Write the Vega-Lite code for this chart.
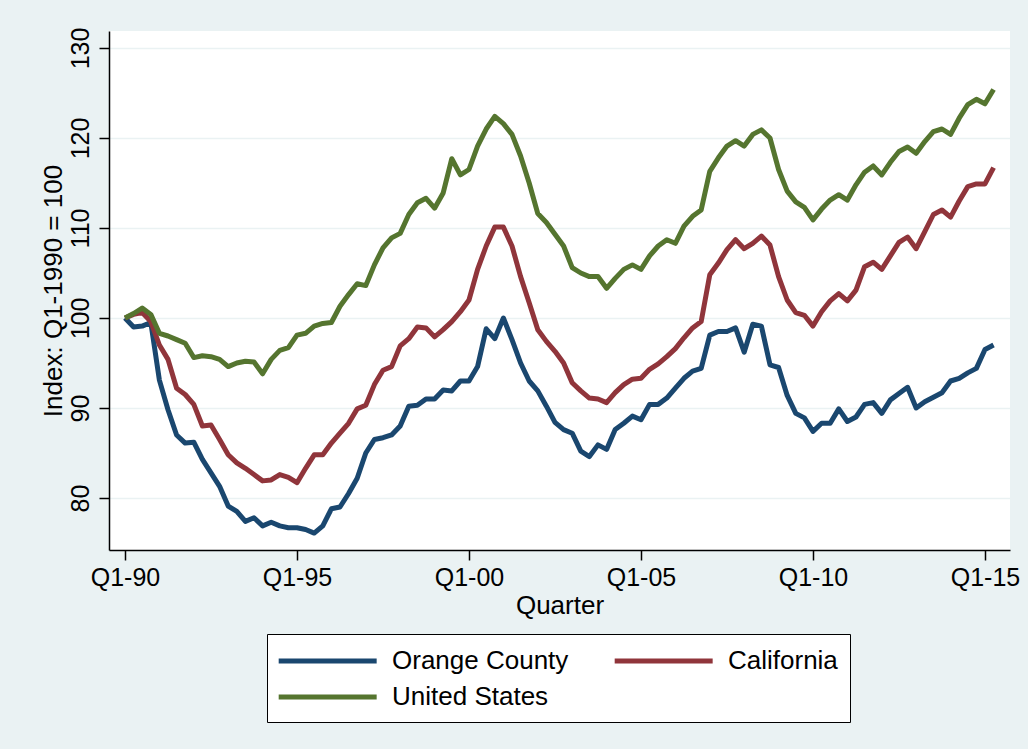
{
  "$schema": "https://vega.github.io/schema/vega-lite/v6.json",
  "width": 901,
  "height": 519,
  "autosize": {"type": "none"},
  "padding": {"left": 109, "top": 31, "right": 18, "bottom": 199},
  "background": "#eaf2f3",
  "config": {
    "font": "Liberation Sans",
    "view": {"fill": "white", "stroke": null},
    "axis": {
      "domainColor": "#000",
      "domainWidth": 1.5,
      "tickColor": "#000",
      "tickWidth": 1.5,
      "tickSize": 10,
      "labelFont": "Liberation Sans",
      "labelFontSize": 25,
      "labelColor": "#000",
      "titleFont": "Liberation Sans",
      "titleFontSize": 26,
      "titleFontWeight": "normal",
      "titleColor": "#000",
      "gridColor": "#eaf2f3",
      "gridWidth": 1.5
    }
  },
  "data": {
    "values": [
      {"q":0,"s":"Orange County","v":100},{"q":1,"s":"Orange County","v":99.0},{"q":2,"s":"Orange County","v":99.1},{"q":3,"s":"Orange County","v":99.5},{"q":4,"s":"Orange County","v":93.1},{"q":5,"s":"Orange County","v":89.8},{"q":6,"s":"Orange County","v":87.0},{"q":7,"s":"Orange County","v":86.1},{"q":8,"s":"Orange County","v":86.2},{"q":9,"s":"Orange County","v":84.3},
      {"q":10,"s":"Orange County","v":82.8},{"q":11,"s":"Orange County","v":81.3},{"q":12,"s":"Orange County","v":79.1},{"q":13,"s":"Orange County","v":78.5},{"q":14,"s":"Orange County","v":77.4},{"q":15,"s":"Orange County","v":77.8},{"q":16,"s":"Orange County","v":76.9},{"q":17,"s":"Orange County","v":77.3},{"q":18,"s":"Orange County","v":76.9},{"q":19,"s":"Orange County","v":76.7},
      {"q":20,"s":"Orange County","v":76.7},{"q":21,"s":"Orange County","v":76.5},{"q":22,"s":"Orange County","v":76.1},{"q":23,"s":"Orange County","v":76.9},{"q":24,"s":"Orange County","v":78.8},{"q":25,"s":"Orange County","v":79.0},{"q":26,"s":"Orange County","v":80.5},{"q":27,"s":"Orange County","v":82.2},{"q":28,"s":"Orange County","v":85.0},{"q":29,"s":"Orange County","v":86.5},
      {"q":30,"s":"Orange County","v":86.7},{"q":31,"s":"Orange County","v":87.0},{"q":32,"s":"Orange County","v":88.0},{"q":33,"s":"Orange County","v":90.2},{"q":34,"s":"Orange County","v":90.3},{"q":35,"s":"Orange County","v":91.0},{"q":36,"s":"Orange County","v":91.0},{"q":37,"s":"Orange County","v":92.0},{"q":38,"s":"Orange County","v":91.9},{"q":39,"s":"Orange County","v":93.0},
      {"q":40,"s":"Orange County","v":93.0},{"q":41,"s":"Orange County","v":94.6},{"q":42,"s":"Orange County","v":98.8},{"q":43,"s":"Orange County","v":97.7},{"q":44,"s":"Orange County","v":100.0},{"q":45,"s":"Orange County","v":97.6},{"q":46,"s":"Orange County","v":95.0},{"q":47,"s":"Orange County","v":93.0},{"q":48,"s":"Orange County","v":91.9},{"q":49,"s":"Orange County","v":90.2},
      {"q":50,"s":"Orange County","v":88.4},{"q":51,"s":"Orange County","v":87.6},{"q":52,"s":"Orange County","v":87.2},{"q":53,"s":"Orange County","v":85.2},{"q":54,"s":"Orange County","v":84.6},{"q":55,"s":"Orange County","v":85.9},{"q":56,"s":"Orange County","v":85.4},{"q":57,"s":"Orange County","v":87.6},{"q":58,"s":"Orange County","v":88.3},{"q":59,"s":"Orange County","v":89.1},
      {"q":60,"s":"Orange County","v":88.7},{"q":61,"s":"Orange County","v":90.4},{"q":62,"s":"Orange County","v":90.4},{"q":63,"s":"Orange County","v":91.1},{"q":64,"s":"Orange County","v":92.2},{"q":65,"s":"Orange County","v":93.3},{"q":66,"s":"Orange County","v":94.1},{"q":67,"s":"Orange County","v":94.4},{"q":68,"s":"Orange County","v":98.1},{"q":69,"s":"Orange County","v":98.5},
      {"q":70,"s":"Orange County","v":98.5},{"q":71,"s":"Orange County","v":98.9},{"q":72,"s":"Orange County","v":96.2},{"q":73,"s":"Orange County","v":99.3},{"q":74,"s":"Orange County","v":99.1},{"q":75,"s":"Orange County","v":94.8},{"q":76,"s":"Orange County","v":94.5},{"q":77,"s":"Orange County","v":91.4},{"q":78,"s":"Orange County","v":89.4},{"q":79,"s":"Orange County","v":88.9},
      {"q":80,"s":"Orange County","v":87.4},{"q":81,"s":"Orange County","v":88.3},{"q":82,"s":"Orange County","v":88.3},{"q":83,"s":"Orange County","v":89.9},{"q":84,"s":"Orange County","v":88.5},{"q":85,"s":"Orange County","v":89.0},{"q":86,"s":"Orange County","v":90.4},{"q":87,"s":"Orange County","v":90.6},{"q":88,"s":"Orange County","v":89.4},{"q":89,"s":"Orange County","v":90.9},
      {"q":90,"s":"Orange County","v":91.6},{"q":91,"s":"Orange County","v":92.3},{"q":92,"s":"Orange County","v":90.0},{"q":93,"s":"Orange County","v":90.7},{"q":94,"s":"Orange County","v":91.2},{"q":95,"s":"Orange County","v":91.7},{"q":96,"s":"Orange County","v":93.0},{"q":97,"s":"Orange County","v":93.3},{"q":98,"s":"Orange County","v":93.9},{"q":99,"s":"Orange County","v":94.4},
      {"q":100,"s":"Orange County","v":96.5},{"q":101,"s":"Orange County","v":97.0},
      {"q":0,"s":"California","v":100},{"q":1,"s":"California","v":100.4},{"q":2,"s":"California","v":100.6},{"q":3,"s":"California","v":99.6},{"q":4,"s":"California","v":97.0},{"q":5,"s":"California","v":95.4},{"q":6,"s":"California","v":92.2},{"q":7,"s":"California","v":91.5},{"q":8,"s":"California","v":90.4},{"q":9,"s":"California","v":88.0},
      {"q":10,"s":"California","v":88.1},{"q":11,"s":"California","v":86.5},{"q":12,"s":"California","v":84.8},{"q":13,"s":"California","v":83.9},{"q":14,"s":"California","v":83.3},{"q":15,"s":"California","v":82.6},{"q":16,"s":"California","v":81.9},{"q":17,"s":"California","v":82.0},{"q":18,"s":"California","v":82.6},{"q":19,"s":"California","v":82.3},
      {"q":20,"s":"California","v":81.7},{"q":21,"s":"California","v":83.3},{"q":22,"s":"California","v":84.8},{"q":23,"s":"California","v":84.8},{"q":24,"s":"California","v":86.1},{"q":25,"s":"California","v":87.2},{"q":26,"s":"California","v":88.3},{"q":27,"s":"California","v":89.9},{"q":28,"s":"California","v":90.3},{"q":29,"s":"California","v":92.6},
      {"q":30,"s":"California","v":94.2},{"q":31,"s":"California","v":94.6},{"q":32,"s":"California","v":96.9},{"q":33,"s":"California","v":97.7},{"q":34,"s":"California","v":99.0},{"q":35,"s":"California","v":98.9},{"q":36,"s":"California","v":97.9},{"q":37,"s":"California","v":98.7},{"q":38,"s":"California","v":99.6},{"q":39,"s":"California","v":100.7},
      {"q":40,"s":"California","v":102.0},{"q":41,"s":"California","v":105.4},{"q":42,"s":"California","v":108.0},{"q":43,"s":"California","v":110.1},{"q":44,"s":"California","v":110.1},{"q":45,"s":"California","v":108.0},{"q":46,"s":"California","v":104.6},{"q":47,"s":"California","v":101.7},{"q":48,"s":"California","v":98.7},{"q":49,"s":"California","v":97.4},
      {"q":50,"s":"California","v":96.3},{"q":51,"s":"California","v":95.0},{"q":52,"s":"California","v":92.8},{"q":53,"s":"California","v":91.9},{"q":54,"s":"California","v":91.1},{"q":55,"s":"California","v":91.0},{"q":56,"s":"California","v":90.6},{"q":57,"s":"California","v":91.7},{"q":58,"s":"California","v":92.6},{"q":59,"s":"California","v":93.2},
      {"q":60,"s":"California","v":93.3},{"q":61,"s":"California","v":94.3},{"q":62,"s":"California","v":94.9},{"q":63,"s":"California","v":95.7},{"q":64,"s":"California","v":96.6},{"q":65,"s":"California","v":97.8},{"q":66,"s":"California","v":98.9},{"q":67,"s":"California","v":99.6},{"q":68,"s":"California","v":104.8},{"q":69,"s":"California","v":106.1},
      {"q":70,"s":"California","v":107.6},{"q":71,"s":"California","v":108.7},{"q":72,"s":"California","v":107.7},{"q":73,"s":"California","v":108.3},{"q":74,"s":"California","v":109.1},{"q":75,"s":"California","v":108.1},{"q":76,"s":"California","v":104.6},{"q":77,"s":"California","v":102.0},{"q":78,"s":"California","v":100.6},{"q":79,"s":"California","v":100.3},
      {"q":80,"s":"California","v":99.1},{"q":81,"s":"California","v":100.7},{"q":82,"s":"California","v":101.9},{"q":83,"s":"California","v":102.7},{"q":84,"s":"California","v":101.9},{"q":85,"s":"California","v":103.1},{"q":86,"s":"California","v":105.7},{"q":87,"s":"California","v":106.2},{"q":88,"s":"California","v":105.4},{"q":89,"s":"California","v":106.9},
      {"q":90,"s":"California","v":108.4},{"q":91,"s":"California","v":109.0},{"q":92,"s":"California","v":107.7},{"q":93,"s":"California","v":109.6},{"q":94,"s":"California","v":111.5},{"q":95,"s":"California","v":112.0},{"q":96,"s":"California","v":111.2},{"q":97,"s":"California","v":113.0},{"q":98,"s":"California","v":114.6},{"q":99,"s":"California","v":114.9},
      {"q":100,"s":"California","v":114.9},{"q":101,"s":"California","v":116.7},
      {"q":0,"s":"United States","v":100},{"q":1,"s":"United States","v":100.5},{"q":2,"s":"United States","v":101.1},{"q":3,"s":"United States","v":100.4},{"q":4,"s":"United States","v":98.3},{"q":5,"s":"United States","v":98.0},{"q":6,"s":"United States","v":97.6},{"q":7,"s":"United States","v":97.2},{"q":8,"s":"United States","v":95.6},{"q":9,"s":"United States","v":95.8},
      {"q":10,"s":"United States","v":95.7},{"q":11,"s":"United States","v":95.4},{"q":12,"s":"United States","v":94.6},{"q":13,"s":"United States","v":95.0},{"q":14,"s":"United States","v":95.2},{"q":15,"s":"United States","v":95.1},{"q":16,"s":"United States","v":93.8},{"q":17,"s":"United States","v":95.4},{"q":18,"s":"United States","v":96.4},{"q":19,"s":"United States","v":96.7},
      {"q":20,"s":"United States","v":98.1},{"q":21,"s":"United States","v":98.3},{"q":22,"s":"United States","v":99.1},{"q":23,"s":"United States","v":99.4},{"q":24,"s":"United States","v":99.5},{"q":25,"s":"United States","v":101.3},{"q":26,"s":"United States","v":102.6},{"q":27,"s":"United States","v":103.8},{"q":28,"s":"United States","v":103.6},{"q":29,"s":"United States","v":105.9},
      {"q":30,"s":"United States","v":107.8},{"q":31,"s":"United States","v":108.9},{"q":32,"s":"United States","v":109.4},{"q":33,"s":"United States","v":111.5},{"q":34,"s":"United States","v":112.8},{"q":35,"s":"United States","v":113.3},{"q":36,"s":"United States","v":112.2},{"q":37,"s":"United States","v":113.9},{"q":38,"s":"United States","v":117.7},{"q":39,"s":"United States","v":115.9},
      {"q":40,"s":"United States","v":116.5},{"q":41,"s":"United States","v":119.1},{"q":42,"s":"United States","v":121.0},{"q":43,"s":"United States","v":122.4},{"q":44,"s":"United States","v":121.6},{"q":45,"s":"United States","v":120.4},{"q":46,"s":"United States","v":118.0},{"q":47,"s":"United States","v":115.0},{"q":48,"s":"United States","v":111.6},{"q":49,"s":"United States","v":110.6},
      {"q":50,"s":"United States","v":109.3},{"q":51,"s":"United States","v":108.0},{"q":52,"s":"United States","v":105.6},{"q":53,"s":"United States","v":105.0},{"q":54,"s":"United States","v":104.6},{"q":55,"s":"United States","v":104.6},{"q":56,"s":"United States","v":103.3},{"q":57,"s":"United States","v":104.4},{"q":58,"s":"United States","v":105.4},{"q":59,"s":"United States","v":105.9},
      {"q":60,"s":"United States","v":105.4},{"q":61,"s":"United States","v":106.9},{"q":62,"s":"United States","v":108.0},{"q":63,"s":"United States","v":108.7},{"q":64,"s":"United States","v":108.3},{"q":65,"s":"United States","v":110.2},{"q":66,"s":"United States","v":111.3},{"q":67,"s":"United States","v":112.0},{"q":68,"s":"United States","v":116.3},{"q":69,"s":"United States","v":117.8},
      {"q":70,"s":"United States","v":119.1},{"q":71,"s":"United States","v":119.7},{"q":72,"s":"United States","v":119.1},{"q":73,"s":"United States","v":120.4},{"q":74,"s":"United States","v":120.9},{"q":75,"s":"United States","v":120.0},{"q":76,"s":"United States","v":116.5},{"q":77,"s":"United States","v":114.1},{"q":78,"s":"United States","v":112.9},{"q":79,"s":"United States","v":112.3},
      {"q":80,"s":"United States","v":110.9},{"q":81,"s":"United States","v":112.1},{"q":82,"s":"United States","v":113.1},{"q":83,"s":"United States","v":113.7},{"q":84,"s":"United States","v":113.1},{"q":85,"s":"United States","v":114.8},{"q":86,"s":"United States","v":116.2},{"q":87,"s":"United States","v":116.9},{"q":88,"s":"United States","v":115.9},{"q":89,"s":"United States","v":117.3},
      {"q":90,"s":"United States","v":118.5},{"q":91,"s":"United States","v":119.0},{"q":92,"s":"United States","v":118.3},{"q":93,"s":"United States","v":119.6},{"q":94,"s":"United States","v":120.7},{"q":95,"s":"United States","v":121.0},{"q":96,"s":"United States","v":120.4},{"q":97,"s":"United States","v":122.2},{"q":98,"s":"United States","v":123.7},{"q":99,"s":"United States","v":124.3},
      {"q":100,"s":"United States","v":123.8},{"q":101,"s":"United States","v":125.4}
    ]
  },
  "mark": {"type": "line", "strokeWidth": 5, "strokeJoin": "round"},
  "encoding": {
    "x": {
      "field": "q",
      "type": "quantitative",
      "scale": {"domain": [-1.86, 102.91], "nice": false, "zero": false},
      "axis": {
        "title": "Quarter",
        "values": [0, 20, 40, 60, 80, 100],
        "labelExpr": "'Q1-' + slice(toString(1990 + datum.value / 4), 2)",
        "grid": false,
        "labelPadding": 5,
        "titlePadding": 2,
        "labelFlush": false,
        "labelOverlap": false
      }
    },
    "y": {
      "field": "v",
      "type": "quantitative",
      "scale": {"domain": [74.22, 131.89], "nice": false, "zero": false},
      "axis": {
        "title": "Index: Q1-1990 = 100",
        "values": [80, 90, 100, 110, 120, 130],
        "labelAngle": -90,
        "labelAlign": "center",
        "labelBaseline": "bottom",
        "labelPadding": 6,
        "titlePadding": 2,
        "grid": true,
        "labelFlush": false,
        "labelOverlap": false
      }
    },
    "color": {
      "field": "s",
      "type": "nominal",
      "sort": ["Orange County", "California", "United States"],
      "scale": {"domain": ["Orange County", "California", "United States"], "range": ["#1a476f", "#90353b", "#55752f"]},
      "legend": {
        "title": null,
        "orient": "none",
        "legendX": 158,
        "legendY": 603,
        "direction": "horizontal",
        "columns": 2,
        "symbolType": "M-1.25,0H6.75",
        "symbolSize": 600,
        "symbolStrokeWidth": 5,
        "labelFont": "Liberation Sans",
        "labelFontSize": 26,
        "labelColor": "#000",
        "labelOffset": 83,
        "labelLimit": 400,
        "columnPadding": 35,
        "rowPadding": 8,
        "padding": 12,
        "strokeColor": "#000",
        "fillColor": "white",
        "cornerRadius": 0
      }
    }
  }
}
